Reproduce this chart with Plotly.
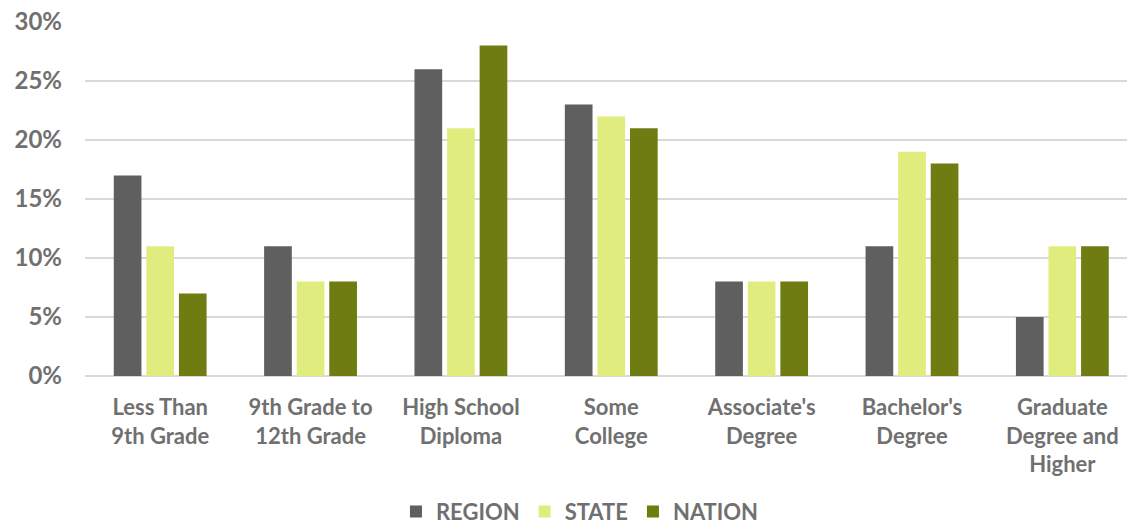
import plotly.graph_objects as go

categories = ["Less Than<br>9th Grade", "9th Grade to<br>12th Grade", "High School<br>Diploma",
              "Some<br>College", "Associate's<br>Degree", "Bachelor's<br>Degree",
              "Graduate<br>Degree and<br>Higher"]
region = [17, 11, 26, 23, 8, 11, 5]
state = [11, 8, 21, 22, 8, 19, 11]
nation = [7, 8, 28, 21, 8, 18, 11]
series_names = ["REGION", "STATE", "NATION"]
colors = ["#5f5f5f", "#e1ec7e", "#6e7c12"]

FONT = "Lato"
TXT = "#707070"

fig = go.Figure()
for name, vals, col in zip(series_names, [region, state, nation], colors):
    fig.add_trace(go.Bar(x=list(range(len(categories))), y=vals, name=name,
                         marker=dict(color=col, line=dict(width=0))))

fig.update_layout(
    width=1127, height=527,
    margin=dict(l=85, r=0, t=22, b=151, autoexpand=False),
    paper_bgcolor="white", plot_bgcolor="white",
    barmode="group", bargap=0.35, bargroupgap=0.15,
    font=dict(family=FONT, color=TXT, size=22),
    showlegend=True,
    legend=dict(orientation="h", x=0.475, xanchor="center", y=-0.383, yanchor="middle",
                font=dict(family=FONT, size=22, color=TXT, weight="bold"),
                itemwidth=30, traceorder="normal"),
    xaxis=dict(range=[-0.5, 6.43], tickmode="array", tickvals=list(range(len(categories))),
               ticktext=categories, showgrid=False, zeroline=False, showline=False,
               automargin=False, ticks="", ticklabelstandoff=16,
               tickfont=dict(family=FONT, size=22, color=TXT, weight="bold")),
    yaxis=dict(range=[0, 30], dtick=5, ticksuffix="%", showgrid=True,
               gridcolor="#d9d9d9", gridwidth=1.5, zeroline=True, zerolinecolor="#d9d9d9",
               zerolinewidth=1.5, showline=False, ticks="", ticklabelstandoff=22,
               automargin=False,
               tickfont=dict(family=FONT, size=24, color=TXT, weight="bold")),
)

fig.write_html("out.html", config={"displayModeBar": False},
               post_script="document.body.style.margin='0';")
